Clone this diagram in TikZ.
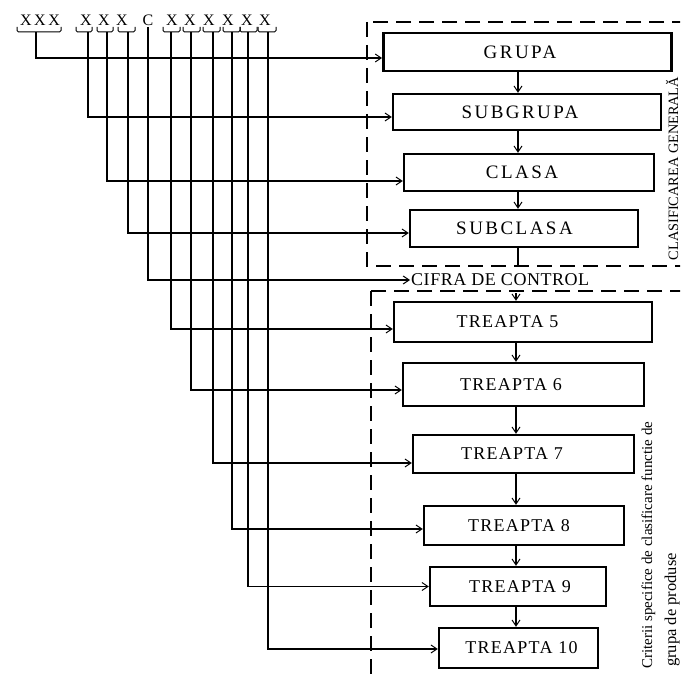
\documentclass[tikz,border=0pt]{standalone}
\usepackage{fontspec}
\setmainfont{Liberation Serif}
\newfontfamily\boxfont[LetterSpace=13]{Liberation Serif}
\newfontfamily\stepfont[LetterSpace=7]{Liberation Serif}
\newfontfamily\ctrlfont[LetterSpace=3]{Liberation Serif}
\newfontfamily\codefont[LetterSpace=16]{Liberation Serif}
\usetikzlibrary{arrows.meta}

\begin{document}
\begin{tikzpicture}[x=1pt,y=-1pt,
  conn/.style={line width=1.1pt},
  arr/.style={conn,-{Straight Barb[length=6pt,width=8pt,line width=1pt]}},
  levelbox/.style={draw,line width=2.3pt,inner sep=0pt,font=\boxfont\fontsize{19}{21}\selectfont},
  stepbox/.style={draw,line width=2.3pt,inner sep=0pt,font=\stepfont\fontsize{18}{20}\selectfont},
  frame/.style={line width=1.3pt,dash pattern=on 15pt off 8pt},
  brk/.style={line width=1pt,rounded corners=1.5pt},
  code/.style={font=\codefont\fontsize{16}{17}\selectfont,inner sep=0pt},
  sidetext/.style={rotate=90,inner sep=0pt,font=\fontsize{15}{16}\selectfont},
]
\useasboundingbox (0,0) rectangle (680,682);
\clip (0,0) rectangle (680,682);

% dashed frames of the two groups of criteria
\draw[frame] (367,22) rectangle (720,266);
\draw[frame] (371,291) rectangle (720,720);

% code digits
\node[code] (cg)  at (40,20)  {XXX};
\node[code] (c1)  at (86,20)  {X};
\node[code] (c2)  at (104,20) {X};
\node[code] (c3)  at (122,20) {X};
\node[code] (cc)  at (148,20) {C};
\node[code] (c4)  at (172,20) {X};
\node[code] (c5)  at (190,20) {X};
\node[code] (c6)  at (209,20) {X};
\node[code] (c7)  at (228,20) {X};
\node[code] (c8)  at (247,20) {X};
\node[code] (c9)  at (265,20) {X};

% brackets under the digits
\draw[brk] (17,27) -- (17,32) -- (61,32) -- (61,27);
\draw[brk] (76,27) -- (76,32) -- (92,32) -- (92,27);
\draw[brk] (97,27) -- (97,32) -- (113,32) -- (113,27);
\draw[brk] (118,27) -- (118,32) -- (135,32) -- (135,27);
\draw[brk] (163,27) -- (163,32) -- (180,32) -- (180,27);
\draw[brk] (183,27) -- (183,32) -- (200,32) -- (200,27);
\draw[brk] (203,27) -- (203,32) -- (220,32) -- (220,27);
\draw[brk] (223,27) -- (223,32) -- (240,32) -- (240,27);
\draw[brk] (240,27) -- (240,32) -- (257,32) -- (257,27);
\draw[brk] (258,27) -- (258,32) -- (276,32) -- (276,27);

\coordinate (b1)  at (36,32);
\coordinate (b2)  at (88,32);
\coordinate (b3)  at (107,32);
\coordinate (b4)  at (128,32);
\coordinate (b5)  at (148,27);
\coordinate (b6)  at (171,32);
\coordinate (b7)  at (191,32);
\coordinate (b8)  at (213,32);
\coordinate (b9)  at (232,32);
\coordinate (b10) at (248,32);
\coordinate (b11) at (268,32);

% general classification levels
\node[levelbox,line width=2.8pt,minimum width=288pt,minimum height=38pt] (grupa) at (527.5,52) {GRUPA\kern15pt};
\node[levelbox,minimum width=268pt,minimum height=36pt] (subgrupa) at (527,112) {SUBGRUPA\kern14pt};
\node[levelbox,minimum width=250pt,minimum height=37pt] (clasa) at (529,172.5) {CLASA\kern14pt};
\node[levelbox,minimum width=228pt,minimum height=37pt] (subclasa) at (524,228.5) {SUBCLASA\kern19pt};

\node[anchor=west,inner xsep=1pt,inner ysep=7pt,font=\ctrlfont\fontsize{18}{20}\selectfont] (cifra) at (410,280) {CIFRA DE CONTROL};

% product-specific steps
\node[stepbox,minimum width=258pt,minimum height=40pt] (t5) at (523,322) {TREAPTA 5\kern31pt};
\node[stepbox,minimum width=241pt,minimum height=43pt] (t6) at (523.5,384.5) {TREAPTA 6\kern25pt};
\node[stepbox,minimum width=221pt,minimum height=38pt] (t7) at (523.5,454) {TREAPTA 7\kern23pt};
\node[stepbox,minimum width=200pt,minimum height=39pt] (t8) at (524,525.5) {TREAPTA 8\kern10pt};
\node[stepbox,minimum width=176pt,minimum height=39pt] (t9) at (518,586.5) {\kern4pt TREAPTA 9};
\node[stepbox,minimum width=159pt,minimum height=40pt] (t10) at (518.5,648) {\kern6pt TREAPTA 10};

% side captions
\node[sidetext,anchor=base,font=\fontsize{14.3}{16}\selectfont] (gen) at (678,168.5) {CLASIFICAREA GENERALĂ};
\node[sidetext,anchor=base west] (crit1) at (652,669) {Criterii specifice de clasificare functie de};
\node[sidetext,anchor=base west,font=\fontsize{16.5}{18}\selectfont] (crit2) at (676,667) {grupa de produse};

% digit lines to the levels
\draw[arr] (b1)  |- ([yshift=-6pt]grupa.west);
\draw[arr] (b2)  |- ([yshift=-5pt]subgrupa.west);
\draw[arr] (b3)  |- ([yshift=-8.5pt]clasa.west);
\draw[arr] (b4)  |- ([yshift=-4.5pt]subclasa.west);
\draw[arr] (b5)  |- (cifra.west);
\draw[arr] (b6)  |- ([yshift=-7pt]t5.west);
\draw[arr] (b7)  |- ([yshift=-5.5pt]t6.west);
\draw[arr] (b8)  |- ([yshift=-9pt]t7.west);
\draw[arr] (b9)  |- ([yshift=-3.5pt]t8.west);
\draw[arr] (b10) |- (t9.west);
\draw[arr] (b11) |- ([yshift=-1pt]t10.west);

% chain of levels
\coordinate (sp1) at (518,0);
\coordinate (sp2) at (516,0);
\draw[arr] (grupa.south -| sp1) -- (subgrupa.north -| sp1);
\draw[arr] (subgrupa.south -| sp1) -- (clasa.north -| sp1);
\draw[arr] (clasa.south -| sp1) -- (subclasa.north -| sp1);
\draw[conn] (subclasa.south -| sp1) -- (cifra.north -| sp1);
\draw[arr] (cifra.south -| sp2) -- (t5.north -| sp2);
\draw[arr] (t5.south -| sp2) -- (t6.north -| sp2);
\draw[arr] (t6.south -| sp2) -- (t7.north -| sp2);
\draw[arr] (t7.south -| sp2) -- (t8.north -| sp2);
\draw[arr] (t8.south -| sp2) -- (t9.north -| sp2);
\draw[arr] (t9.south -| sp2) -- (t10.north -| sp2);
\end{tikzpicture}
\end{document}
